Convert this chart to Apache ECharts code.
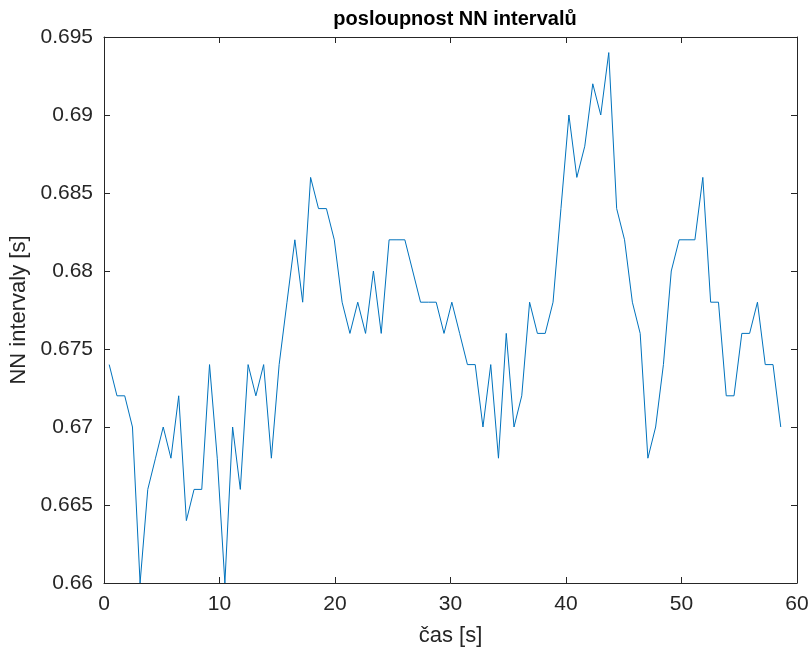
<!DOCTYPE html>
<html>
<head>
<meta charset="utf-8">
<script src="https://cdn.jsdelivr.net/npm/echarts@6/dist/echarts.min.js"></script>
<style>html,body{margin:0;padding:0;background:#fff}#c{width:809px;height:655px}</style>
</head>
<body>
<div id="c"></div>
<script>
const times = [0.450,1.122,1.794,2.464,3.124,3.790,4.458,5.128,5.796,6.468,7.132,7.798,8.464,9.138,9.806,10.466,11.136,11.802,12.476,13.148,13.822,14.490,15.164,15.842,16.524,17.202,17.888,18.572,19.256,19.938,20.616,21.292,21.970,22.646,23.326,24.002,24.684,25.366,26.048,26.728,27.406,28.084,28.762,29.438,30.116,30.792,31.466,32.140,32.810,33.484,34.152,34.828,35.498,36.170,36.848,37.524,38.200,38.878,39.562,40.252,40.938,41.626,42.318,43.008,43.702,44.386,45.068,45.746,46.422,47.090,47.760,48.434,49.114,49.796,50.478,51.160,51.846,52.524,53.202,53.874,54.546,55.222,55.898,56.576,57.250,57.924,58.594];
const nnIntervals = [0.674,0.672,0.672,0.670,0.660,0.666,0.668,0.670,0.668,0.672,0.664,0.666,0.666,0.674,0.668,0.660,0.670,0.666,0.674,0.672,0.674,0.668,0.674,0.678,0.682,0.678,0.686,0.684,0.684,0.682,0.678,0.676,0.678,0.676,0.680,0.676,0.682,0.682,0.682,0.680,0.678,0.678,0.678,0.676,0.678,0.676,0.674,0.674,0.670,0.674,0.668,0.676,0.670,0.672,0.678,0.676,0.676,0.678,0.684,0.690,0.686,0.688,0.692,0.690,0.694,0.684,0.682,0.678,0.676,0.668,0.670,0.674,0.680,0.682,0.682,0.682,0.686,0.678,0.678,0.672,0.672,0.676,0.676,0.678,0.674,0.674,0.670];
const xTicks = {min: 0, max: 60, step: 10};
const yTicks = {min: 0.66, max: 0.695, step: 0.005};
const titleText = 'posloupnost NN intervalů';
const xLabel = 'čas [s]';
const yLabel = 'NN intervaly [s]';

const FONT = 'Liberation Sans, Arial, sans-serif';
const AX = '#262626';
const chart = echarts.init(document.getElementById('c'));
const axisCommon = {
  axisLine: {show: true, onZero: false, lineStyle: {color: AX, width: 1}},
  axisTick: {show: true, inside: true, length: 6, lineStyle: {color: AX}},
  splitLine: {show: false}
};
const fmt = v => String(+(+v).toFixed(3));
chart.setOption({
  animation: false,
  backgroundColor: '#fff',
  title: {text: titleText, left: 450, top: 4, textAlign: 'center',
    textStyle: {fontFamily: FONT, fontSize: 20, fontWeight: 'bold', color: '#000'}},
  grid: {left: 104, right: 12, top: 37, bottom: 72, containLabel: false, outerBoundsMode: 'none'},
  xAxis: [
    Object.assign({type: 'value', min: xTicks.min, max: xTicks.max, interval: xTicks.step,
      name: xLabel, nameLocation: 'middle', nameGap: 42,
      nameTextStyle: {fontFamily: FONT, fontSize: 22, color: AX},
      axisLabel: {fontFamily: FONT, fontSize: 21, color: AX, margin: 11, formatter: fmt}}, axisCommon),
    Object.assign({type: 'value', position: 'top', min: xTicks.min, max: xTicks.max, interval: xTicks.step,
      axisLabel: {show: false}}, axisCommon)
  ],
  yAxis: [
    Object.assign({type: 'value', min: yTicks.min, max: yTicks.max, interval: yTicks.step,
      name: yLabel, nameLocation: 'middle', nameGap: 73,
      nameTextStyle: {fontFamily: FONT, fontSize: 22, color: AX},
      axisLabel: {fontFamily: FONT, fontSize: 21, color: AX, margin: 11, formatter: fmt}}, axisCommon),
    Object.assign({type: 'value', position: 'right', min: yTicks.min, max: yTicks.max, interval: yTicks.step,
      axisLabel: {show: false}}, axisCommon)
  ],
  series: [{
    type: 'line',
    data: times.map((t, i) => [t, nnIntervals[i]]),
    showSymbol: false,
    lineStyle: {color: '#0072BD', width: 1},
    clip: false
  }]
});
</script>
</body>
</html>
